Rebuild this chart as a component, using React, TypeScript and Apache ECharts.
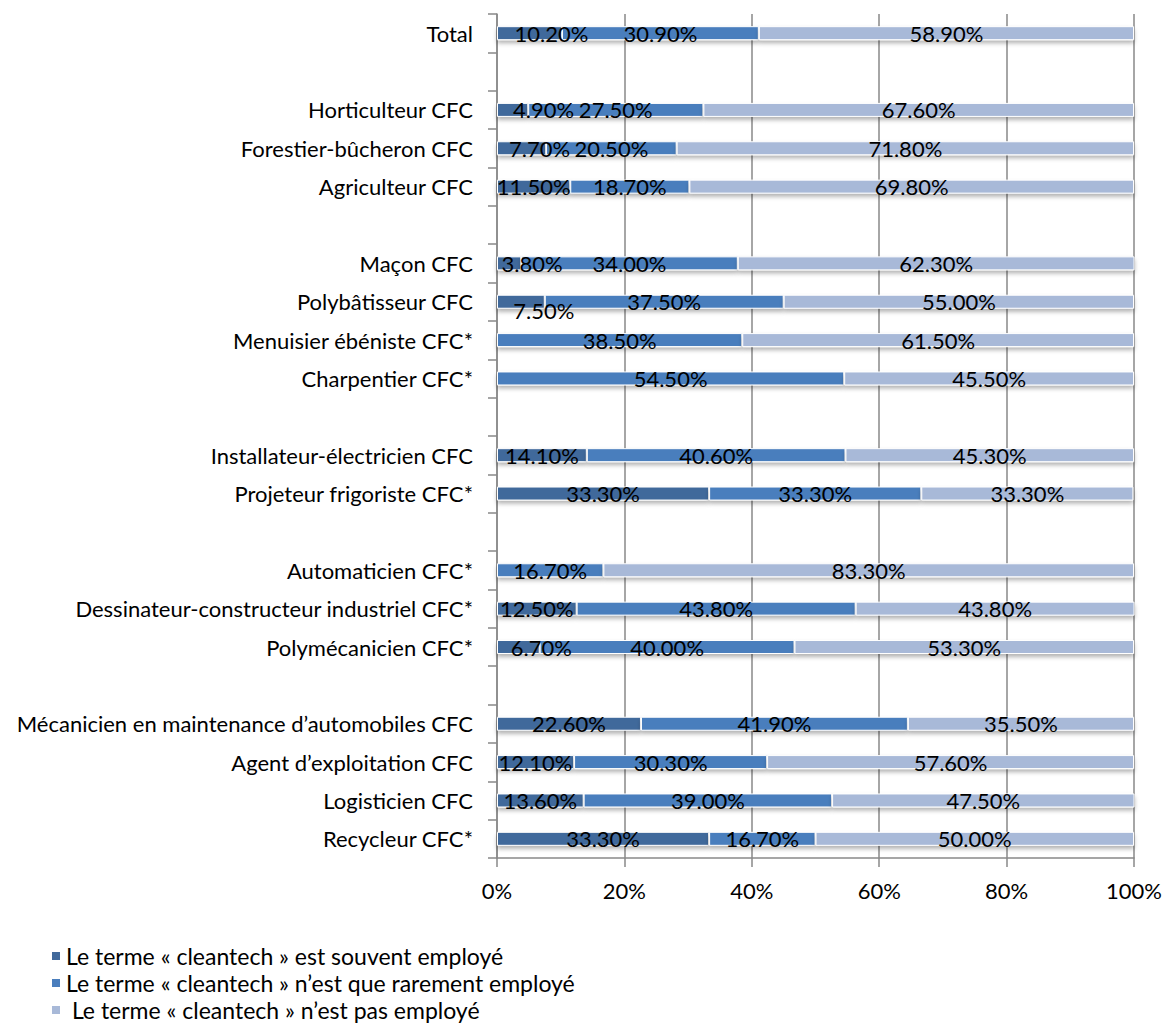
import React, { useEffect, useRef } from "react";
import * as echarts from "echarts";

const categories: string[] = [
  "Total",
  " ",
  "Horticulteur CFC",
  "Forestier-bûcheron CFC",
  "Agriculteur CFC",
  "  ",
  "Maçon CFC",
  "Polybâtisseur CFC",
  "Menuisier ébéniste CFC*",
  "Charpentier CFC*",
  "   ",
  "Installateur-électricien CFC",
  "Projeteur frigoriste CFC*",
  "    ",
  "Automaticien CFC*",
  "Dessinateur-constructeur industriel CFC*",
  "Polymécanicien CFC*",
  "     ",
  "Mécanicien en maintenance d’automobiles CFC",
  "Agent d’exploitation CFC",
  "Logisticien CFC",
  "Recycleur CFC*",
];

const souvent: (number | null)[] = [
  10.2, null, 4.9, 7.7, 11.5, null, 3.8, 7.5, 0, 0, null, 14.1, 33.3, null, 0, 12.5, 6.7, null, 22.6, 12.1, 13.6, 33.3,
];
const rarement: (number | null)[] = [
  30.9, null, 27.5, 20.5, 18.7, null, 34.0, 37.5, 38.5, 54.5, null, 40.6, 33.3, null, 16.7, 43.8, 40.0, null, 41.9, 30.3, 39.0, 16.7,
];
const pasEmploye: (number | null)[] = [
  58.9, null, 67.6, 71.8, 69.8, null, 62.3, 55.0, 61.5, 45.5, null, 45.3, 33.3, null, 83.3, 43.8, 53.3, null, 35.5, 57.6, 47.5, 50.0,
];

const seriesNames: string[] = [
  "Le terme « cleantech » est souvent employé",
  "Le terme « cleantech » n’est que rarement employé",
  " Le terme « cleantech » n’est pas employé",
];

const xTicks: number[] = [0, 20, 40, 60, 80, 100];

// label nudges (style only) for narrow first segments, keyed by category
const darkLabelShift: Record<string, [number, number]> = {
  Total: [22, 0],
  "Horticulteur CFC": [31, 0],
  "Forestier-bûcheron CFC": [18, 0],
  "Maçon CFC": [23, 0],
  "Polybâtisseur CFC": [23, 9],
  "Polymécanicien CFC*": [23, 0],
};

const FONT = "Lato";
const FS = 22;
const COLORS = ["#41699B", "#4A7EBD", "#A8B9D8"];
const GRAY = "#888888";

export default function App() {
  const ref = useRef<HTMLDivElement>(null);
  useEffect(() => {
    if (!ref.current) return;
    const chart = echarts.init(ref.current, undefined, { renderer: "svg" });
    const fmt = (p: any) => {
      const v = typeof p.value === "number" ? p.value : null;
      if (v === null || v === 0) return "";
      return v.toFixed(2) + "%";
    };
    const baseLabel = {
      show: true,
      position: "inside",
      color: "#000",
      fontSize: FS,
      fontFamily: FONT,
      formatter: fmt,
    };
    const itemStyleFor = (c: string) => ({
      color: c,
      borderColor: "#ffffff",
      borderWidth: 1,
      shadowColor: "rgba(0,0,0,0.3)",
      shadowBlur: 4,
      shadowOffsetY: 3,
    });
    const darkData = souvent.map((v, i) => {
      const s = darkLabelShift[categories[i]];
      if (s) return { value: v, label: { offset: s } };
      return v;
    });
    const dataSets = [darkData, rarement, pasEmploye];
    chart.setOption({
      animation: false,
      textStyle: { fontFamily: FONT },
      grid: { left: 497, right: 30, top: 14, bottom: 168 },
      legend: {
        orient: "vertical",
        left: 50,
        top: 944,
        padding: 0,
        itemWidth: 10,
        itemHeight: 10,
        itemGap: 3,
        icon: "rect",
        textStyle: { fontSize: 23, color: "#000", fontFamily: FONT, lineHeight: 24 },
        data: seriesNames,
      },
      xAxis: {
        type: "value",
        min: xTicks[0],
        max: xTicks[xTicks.length - 1],
        interval: 20,
        axisLine: { show: true, lineStyle: { color: GRAY, width: 1.5 } },
        axisTick: { show: true, length: 9, lineStyle: { color: GRAY, width: 1.5 } },
        splitLine: { show: true, lineStyle: { color: GRAY, width: 1.5 } },
        axisLabel: {
          formatter: "{value}%",
          fontSize: FS,
          color: "#000",
          fontFamily: FONT,
          margin: 21,
        },
      },
      yAxis: {
        type: "category",
        inverse: true,
        data: categories,
        axisLine: { show: true, lineStyle: { color: GRAY, width: 1.5 } },
        axisTick: { show: true, length: 9, interval: 0, lineStyle: { color: GRAY, width: 1.5 } },
        axisLabel: {
          interval: 0,
          fontSize: FS,
          color: "#000",
          fontFamily: FONT,
          margin: 24,
        },
      },
      series: seriesNames.map((name, i) => ({
        name,
        type: "bar",
        stack: "total",
        barWidth: 14,
        data: dataSets[i],
        itemStyle: itemStyleFor(COLORS[i]),
        label: baseLabel,
      })),
    });
    return () => chart.dispose();
  }, []);
  return <div ref={ref} style={{ width: 1165, height: 1026, position: "absolute", left: 0, top: 0 }} />;
}
